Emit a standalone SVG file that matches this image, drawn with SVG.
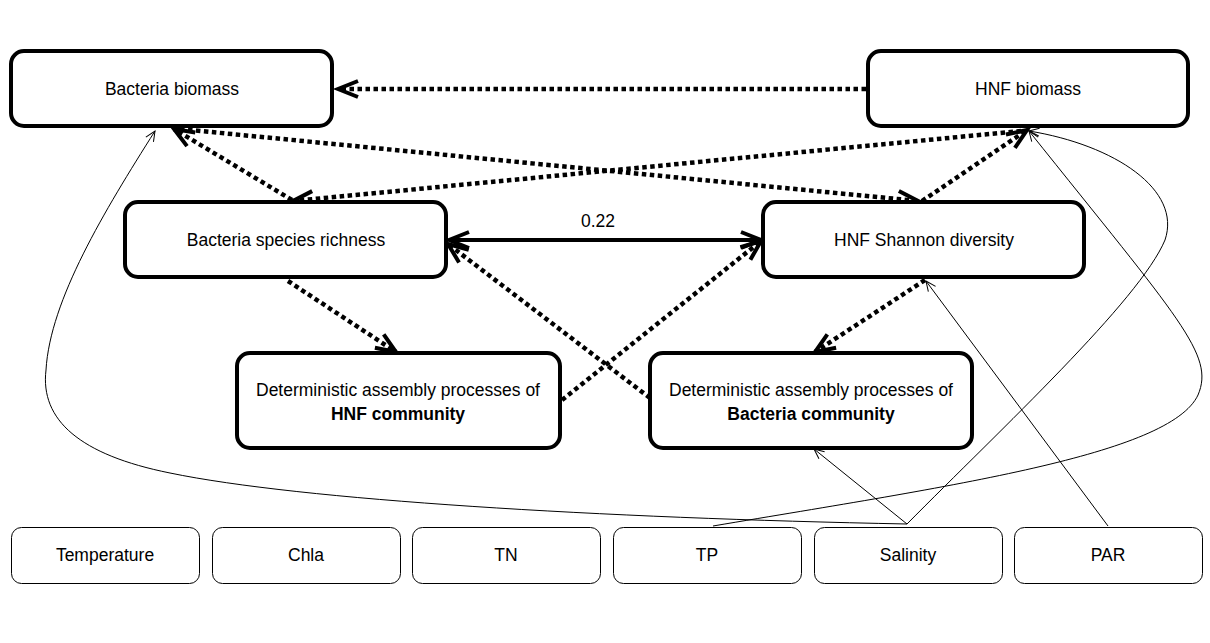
<svg xmlns="http://www.w3.org/2000/svg" width="1210" height="643" viewBox="0 0 1210 643">
<style>
.nb{fill:#fff;stroke:#000;stroke-width:4}
.env{fill:#fff;stroke:#000;stroke-width:1}
text{font-family:"Liberation Sans",Arial,sans-serif;font-size:17.5px;fill:#000;text-anchor:middle}
.b{font-weight:bold}
.dot{fill:none;stroke:#000;stroke-width:4.5;stroke-dasharray:4.5 3.5;marker-end:url(#ah)}
.sol{fill:none;stroke:#000;stroke-width:4;marker-end:url(#ah);marker-start:url(#ahs)}
.thin{fill:none;stroke:#000;stroke-width:1;marker-end:url(#th)}
</style>
<defs>
<marker id="ah" viewBox="-24 -12 28 24" refX="0" refY="0" markerWidth="28" markerHeight="24" markerUnits="userSpaceOnUse" orient="auto">
<path d="M-20,-8 L0,0 L-20,8" fill="none" stroke="#000" stroke-width="4"/>
</marker>
<marker id="ahs" viewBox="-24 -12 28 24" refX="0" refY="0" markerWidth="28" markerHeight="24" markerUnits="userSpaceOnUse" orient="auto-start-reverse">
<path d="M-20,-8 L0,0 L-20,8" fill="none" stroke="#000" stroke-width="4"/>
</marker>
<marker id="th" viewBox="-12 -6 14 12" refX="0" refY="0" markerWidth="14" markerHeight="12" markerUnits="userSpaceOnUse" orient="auto">
<path d="M-10,-4.5 L0,0 L-10,4.5" fill="none" stroke="#000" stroke-width="1"/>
</marker>
</defs>
<rect width="1210" height="643" fill="#fff"/>
<g id="connectors">
<path class="thin" d="M907,524 C600,518 300,500 170,473 C80,455 40,420 46,370 C50,300 105,210 155,131"/>
<path class="thin" d="M907,524 C1000,430 1140,300 1165,240 C1182,190 1115,145 1029,131"/>
<path class="thin" d="M713,526 C950,486 1170,455 1198,395 C1215,355 1180,320 1029,131"/>
<path class="thin" d="M1108,526 L926,281"/>
<path class="thin" d="M907,524 L814,449"/>
<path class="dot" d="M866,89 L338,89"/>
<path class="dot" d="M180,129 L918,201"/>
<path class="dot" d="M1021,131 L293,201"/>
<path class="dot" d="M922,201 L1027,130"/>
<path class="dot" d="M292,200 L174,129"/>
<path class="dot" d="M288,281 L396,352"/>
<path class="dot" d="M562,400 L761,241"/>
<path class="dot" d="M650,398 L448,244"/>
<path class="dot" d="M925,280 L815,352"/>
<path class="sol" d="M449,240 L761,240"/>
<text x="598" y="227">0.22</text>
</g>
<g id="bacteria-biomass"><rect class="nb" x="11" y="51" width="321" height="75" rx="13"/><text x="172" y="95">Bacteria biomass</text></g>
<g id="hnf-biomass"><rect class="nb" x="868" y="51" width="320" height="75" rx="13"/><text x="1028" y="95">HNF biomass</text></g>
<g id="bacteria-richness"><rect class="nb" x="125" y="202" width="321" height="75" rx="13"/><text x="286" y="246">Bacteria species richness</text></g>
<g id="hnf-shannon"><rect class="nb" x="763" y="202" width="321" height="75" rx="13"/><text x="924" y="246">HNF Shannon diversity</text></g>
<g id="det-hnf"><rect class="nb" x="237" y="353" width="323" height="95" rx="13"/><text x="398" y="396">Deterministic assembly processes of</text><text class="b" x="398" y="420">HNF community</text></g>
<g id="det-bacteria"><rect class="nb" x="650" y="353" width="322" height="95" rx="13"/><text x="811" y="396">Deterministic assembly processes of</text><text class="b" x="811" y="420">Bacteria community</text></g>
<g id="temperature"><rect class="env" x="11.5" y="527.5" width="188" height="56" rx="10"/><text x="105" y="561">Temperature</text></g>
<g id="chla"><rect class="env" x="212.5" y="527.5" width="188" height="56" rx="10"/><text x="306" y="561">Chla</text></g>
<g id="tn"><rect class="env" x="412.5" y="527.5" width="188" height="56" rx="10"/><text x="506" y="561">TN</text></g>
<g id="tp"><rect class="env" x="613.5" y="527.5" width="188" height="56" rx="10"/><text x="707" y="561">TP</text></g>
<g id="salinity"><rect class="env" x="814.5" y="527.5" width="188" height="56" rx="10"/><text x="908" y="561">Salinity</text></g>
<g id="par"><rect class="env" x="1014.5" y="527.5" width="188" height="56" rx="10"/><text x="1108" y="561">PAR</text></g>
</svg>
